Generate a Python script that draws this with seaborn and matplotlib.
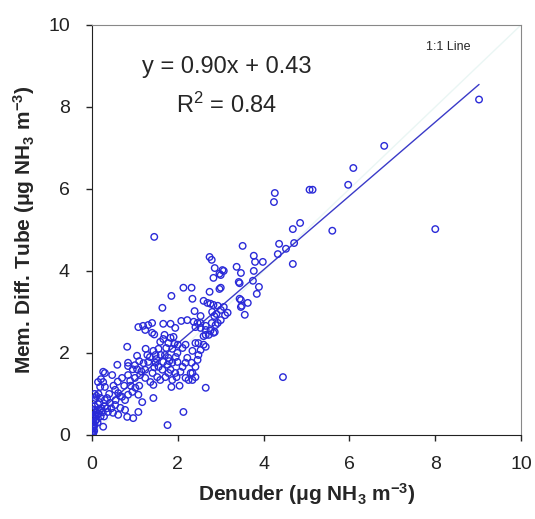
import numpy as np
import pandas as pd
import matplotlib
matplotlib.use('Agg')
import matplotlib.pyplot as plt
import seaborn as sns

# data
# -----------------------------------------------------------------------------
denuder = [
    # cluster close to the origin
    0.02, 0.03, 0.05, 0.04, 0.06, 0.02, 0.08, 0.05, 0.03, 0.07, 0.10, 0.12,
    0.04, 0.06, 0.09, 0.15, 0.18, 0.20, 0.11, 0.14, 0.22, 0.25, 0.30, 0.05,
    0.08, 0.02, 0.13, 0.17, 0.10, 0.06, 0.28, 0.35, 0.04, 0.01, 0.03, 0.26,
    # low range
    0.59, 0.84, 0.84, 0.82, 1.05, 0.30, 0.47, 0.14, 0.26, 0.19, 0.70, 0.84,
    0.89, 1.00, 1.12, 0.54, 0.61, 0.70, 0.77, 0.84, 0.94, 1.01, 1.08, 1.17,
    0.30, 0.42, 0.54, 0.66, 0.37, 0.49, 0.61, 0.77, 0.82, 1.08, 0.96, 1.43,
    1.76, 2.13, 0.26, 0.21, 0.30, 0.40, 0.50, 0.35, 0.60, 0.75, 0.90, 0.95,
    1.10, 0.65, 0.45, 0.20, 0.15, 0.55,
    # mid range
    1.31, 1.48, 1.55, 1.66, 1.76, 1.64, 1.78, 1.24, 1.41, 1.52, 1.24, 1.36,
    1.43, 1.59, 1.71, 1.78, 1.87, 1.99, 2.11, 2.06, 1.94, 1.83, 2.18, 2.30,
    2.34, 2.18, 1.85, 2.04, 1.87, 1.97, 2.65, 2.46, 1.29, 1.43, 1.48, 1.66,
    1.90, 1.92, 1.73, 1.24, 1.40, 1.08, 1.19, 1.31, 1.45, 1.66, 1.83, 1.94,
    2.18, 2.11, 1.99, 1.87, 1.78, 1.83, 1.69, 1.59, 2.22, 2.32, 2.41, 2.34,
    2.25, 2.41, 2.41, 2.53, 2.60, 2.72, 2.83, 2.48, 2.34, 2.37, 2.53, 2.65,
    2.79, 2.93, 3.00, 2.65, 2.86, 2.48, 2.65, 1.00, 1.10, 1.20, 1.35, 1.50,
    1.60, 1.15, 1.45, 1.70, 1.80, 1.95, 2.00, 1.55, 1.25, 1.05,
    # upper mid range
    2.74, 2.79, 2.86, 3.04, 2.97, 2.83, 2.13, 2.32, 2.74, 2.97, 1.85, 2.34,
    2.60, 2.69, 2.76, 2.83, 2.93, 1.64, 2.39, 2.80, 2.90, 3.00, 3.10, 2.85,
    2.53, 1.40, 2.08, 2.22, 2.46, 2.41, 2.53, 2.88, 2.65, 2.76, 2.60,
    # high range
    3.51, 4.68, 4.85, 5.60, 4.36, 4.33, 4.52, 4.71, 4.68, 3.77, 3.80, 3.98,
    3.77, 3.37, 3.47, 3.07, 3.00, 3.42, 3.44, 3.75, 3.89, 3.84, 3.47, 3.63,
    3.47, 3.56, 3.00, 3.07, 3.16, 3.44, 3.49,
    # isolated points
    1.45, 4.26, 4.24, 5.07, 5.14, 5.97, 6.09, 6.81, 9.02, 8.00, 4.45,
]
diff_tube = [
    # cluster close to the origin
    0.00, 0.05, 0.10, 0.18, 0.25, 0.30, 0.35, 0.40, 0.45, 0.50, 0.55, 0.60,
    0.62, 0.70, 0.48, 0.52, 0.60, 0.45, 0.38, 0.75, 0.65, 0.55, 0.70, 0.85,
    0.90, 0.15, 0.30, 0.80, 0.95, 1.00, 0.45, 0.65, 0.22, 0.08, 0.60, 0.20,
    # low range
    1.71, 1.76, 1.68, 2.15, 1.93, 1.51, 1.46, 1.29, 1.29, 1.17, 1.39, 1.46,
    1.32, 1.39, 1.46, 1.10, 1.02, 0.93, 0.85, 0.98, 1.05, 1.15, 0.98, 0.80,
    0.85, 0.78, 0.73, 0.66, 0.56, 0.54, 0.49, 0.61, 0.44, 0.56, 0.41, 0.90,
    0.24, 0.56, 1.54, 1.36, 1.17, 1.00, 1.20, 0.90, 1.30, 1.20, 1.20, 1.60,
    1.20, 0.95, 0.65, 0.90, 1.00, 0.85,
    # mid range
    1.78, 1.76, 1.66, 1.78, 1.71, 1.59, 1.88, 1.59, 1.51, 1.41, 1.39, 1.29,
    1.22, 1.34, 1.41, 1.51, 1.76, 1.78, 1.66, 1.54, 1.51, 1.59, 1.76, 1.51,
    1.34, 1.39, 1.17, 1.20, 1.34, 1.41, 1.15, 1.83, 1.95, 2.05, 1.95, 2.34,
    2.39, 2.22, 2.12, 2.56, 2.49, 2.63, 2.66, 2.68, 2.45, 2.71, 2.71, 2.61,
    2.20, 2.12, 2.00, 2.10, 2.24, 2.37, 2.44, 2.27, 1.88, 1.76, 1.66, 1.51,
    1.34, 1.41, 2.24, 2.07, 2.20, 2.44, 2.49, 1.95, 2.05, 2.76, 2.73, 2.66,
    2.73, 2.73, 2.80, 2.44, 2.51, 2.24, 2.15, 1.70, 1.80, 1.75, 1.90, 1.85,
    1.95, 1.55, 1.65, 1.95, 1.80, 1.90, 2.20, 2.10, 2.10, 1.60,
    # upper mid range
    4.34, 4.27, 4.07, 4.02, 3.93, 3.83, 3.59, 3.59, 3.49, 3.56, 3.39, 3.32,
    3.27, 3.22, 3.20, 3.17, 3.15, 3.10, 3.02, 3.00, 2.95, 3.05, 2.92, 2.90,
    2.90, 2.73, 2.78, 2.80, 2.73, 2.63, 2.61, 2.68, 2.56, 2.54, 2.41,
    # high range
    4.61, 5.02, 5.17, 4.98, 4.66, 4.41, 4.54, 4.68, 4.17, 4.37, 4.22, 4.22,
    4.00, 4.10, 3.95, 4.00, 3.90, 3.73, 3.70, 3.76, 3.61, 3.44, 3.29, 3.22,
    3.12, 2.93, 3.59, 3.12, 2.98, 3.32, 3.15,
    # isolated points
    4.83, 5.90, 5.68, 5.98, 5.98, 6.10, 6.51, 7.05, 8.18, 5.02, 1.41,
]

# regression result printed on the chart
slope = 0.90
intercept = 0.43
r_squared = 0.84
# -----------------------------------------------------------------------------

df = pd.DataFrame({'Denuder': denuder, 'Tube': diff_tube})

sns.set_style('ticks')
plt.rcParams['font.family'] = ['Liberation Sans', 'DejaVu Sans']
plt.rcParams['mathtext.default'] = 'regular'

point_color = '#2a2ad8'
line_color = '#3a3ac8'

fig = plt.figure(figsize=(5.35, 5.19), dpi=100)
ax = fig.add_axes([0.172, 0.162, 0.802, 0.790])

# faint 1:1 line
ax.plot([0, 10], [0, 10], color='#eaf6f4', lw=1.0, zorder=1)

# fitted line
fit_x = np.array([0, df['Denuder'].max()])
sns.lineplot(x=fit_x, y=slope * fit_x + intercept, color=line_color,
             lw=1.0, ax=ax, zorder=2)

# measured points as open circles
sns.scatterplot(data=df, x='Denuder', y='Tube', marker='o', s=22,
                facecolor='none', edgecolor=point_color, linewidth=1.0,
                ax=ax, zorder=3)

ax.set_xlim(0, 10)
ax.set_ylim(0, 10)
ax.set_xticks(range(0, 11, 2))
ax.set_yticks(range(0, 11, 2))
ax.tick_params(labelsize=14, labelcolor='#222222', length=4, width=1,
               direction='out')
ax.tick_params(axis='x', pad=11)
ax.tick_params(axis='y', pad=12)

for side in ['left', 'bottom']:
    ax.spines[side].set_color('#222222')
for side in ['top', 'right']:
    ax.spines[side].set_visible(True)
    ax.spines[side].set_color('#888888')

ax.set_xlabel('Denuder (μg NH$_3$ m$^{-3}$)', fontsize=15,
              fontweight='bold', labelpad=6)
ax.set_ylabel('Mem. Diff. Tube (μg NH$_3$ m$^{-3}$)', fontsize=15,
              fontweight='bold', labelpad=8)

ax.text(3.14, 8.98, 'y = {:.2f}x + {:.2f}'.format(slope, intercept),
        fontsize=17, ha='center', va='center')
ax.text(3.14, 8.05, 'R$^2$ = {:.2f}'.format(r_squared),
        fontsize=17, ha='center', va='center')
ax.text(8.31, 9.46, '1:1 Line', fontsize=9, ha='center', va='center')

plt.savefig('out.png', dpi=100)
